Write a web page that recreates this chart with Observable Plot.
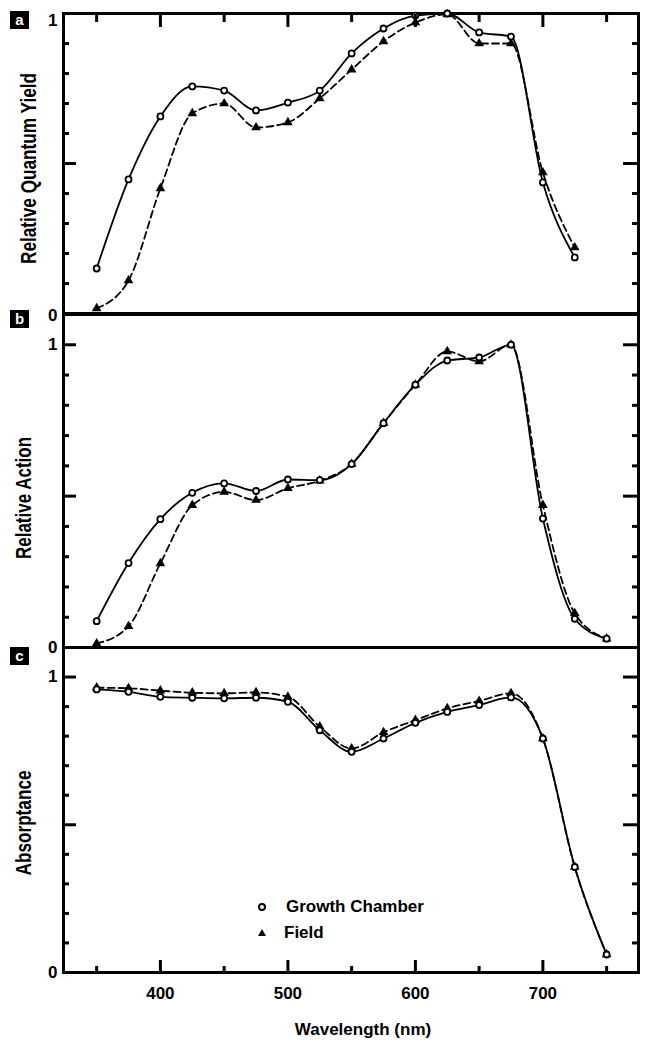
<!DOCTYPE html>
<html>
<head>
<meta charset="utf-8">
<script src="https://cdn.jsdelivr.net/npm/d3@7"></script>
<script src="https://cdn.jsdelivr.net/npm/@observablehq/plot@0.6"></script>
<style>
  body { margin: 0; background: #fff; }
  #chart { position: relative; width: 650px; height: 1046px; font-family: "Liberation Sans", Arial, sans-serif; font-weight: bold; color: #000; }
  .panel { position: absolute; left: 0; }
  .tag { position: absolute; left: 10px; width: 19px; height: 18px; background: #000; color: #fff; font-size: 15px; line-height: 17px; text-align: center; }
  .lg-sym { position: absolute; width: 14px; height: 14px; }
  .lg-txt { position: absolute; font-size: 17px; line-height: 20px; white-space: nowrap; }
</style>
</head>
<body>
<div id="chart"></div>
<script>
// ---------- data ----------
const wavelengthsA = [350, 375, 400, 425, 450, 475, 500, 525, 550, 575, 600, 625, 650, 675, 700, 725];
const wavelengths  = [350, 375, 400, 425, 450, 475, 500, 525, 550, 575, 600, 625, 650, 675, 700, 725, 750];

const quantumYieldGrowth = [0.15, 0.447, 0.657, 0.757, 0.743, 0.677, 0.703, 0.743, 0.867, 0.95, 0.993, 1.0, 0.937, 0.923, 0.437, 0.187];
const quantumYieldField  = [0.017, 0.11, 0.417, 0.667, 0.70, 0.62, 0.637, 0.717, 0.813, 0.907, 0.97, 0.997, 0.9, 0.9, 0.47, 0.22];

const actionGrowth = [0.087, 0.279, 0.424, 0.511, 0.542, 0.517, 0.555, 0.553, 0.606, 0.741, 0.868, 0.948, 0.958, 1.0, 0.426, 0.095, 0.029];
const actionField  = [0.013, 0.07, 0.278, 0.47, 0.514, 0.487, 0.526, 0.551, 0.606, 0.741, 0.868, 0.978, 0.945, 1.0, 0.47, 0.113, 0.029];

const absorptanceGrowth = [0.958, 0.95, 0.933, 0.93, 0.928, 0.93, 0.916, 0.82, 0.747, 0.792, 0.845, 0.882, 0.905, 0.931, 0.792, 0.357, 0.061];
const absorptanceField  = [0.964, 0.962, 0.954, 0.947, 0.945, 0.948, 0.933, 0.832, 0.758, 0.813, 0.854, 0.894, 0.919, 0.945, 0.792, 0.357, 0.061];

const seriesNames = ["Growth Chamber", "Field"];
const panelTags = ["a", "b", "c"];
const yTitles = ["Relative Quantum Yield", "Relative Action", "Absorptance"];
const xTitle = "Wavelength (nm)";

const xDomain = [324, 775];
const xMajorTicks = [400, 500, 600, 700];
const xMinorTicks = [350, 450, 550, 650, 750];
const yMinorTicks = [0.1, 0.2, 0.3, 0.4, 0.6, 0.7, 0.8, 0.9];
const yLabelTicks = [0, 1];

// ---------- helpers ----------
const FONT = '"Liberation Sans", Arial, sans-serif';
const rows = (ws, vals) => ws.map((w, i) => ({w, v: vals[i]}));
const fmt = d => String(d);

function panel({growth, field, yDomain, yMajor, height, marginTop, marginBottom, title, titleDx, titleDy, titleLength, topTicks, bottomTicks, labelMarks}) {
  const marks = [
    Plot.frame({strokeWidth: 3}),
    Plot.axisY(yMinorTicks, {anchor: "left", tickSize: 6, dx: 6, strokeWidth: 3, fill: "none", label: null}),
    Plot.axisY(yMajor, {anchor: "left", tickSize: 13, dx: 13, strokeWidth: 3, fill: "none", label: null}),
    Plot.axisY(yMinorTicks, {anchor: "right", tickSize: 7, dx: -7, strokeWidth: 3, fill: "none", label: null}),
    Plot.axisY(yMajor, {anchor: "right", tickSize: 16, dx: -16, strokeWidth: 3, fill: "none", label: null}),
    ...labelMarks,
    Plot.text([title], {frameAnchor: "left", textAnchor: "middle", lineAnchor: "middle", rotate: -90, dx: titleDx, dy: titleDy, text: d => d, fontSize: 22, fontWeight: "bold", className: "ytitle"}),
    Plot.line(field, {x: "w", y: "v", curve: "monotone-x", stroke: "black", strokeWidth: 1.8, strokeDasharray: "7,4"}),
    Plot.line(growth, {x: "w", y: "v", curve: "monotone-x", stroke: "black", strokeWidth: 1.8}),
    Plot.dot(field, {x: "w", y: "v", symbol: "triangle", r: 3.6, fill: "black"}),
    Plot.dot(growth, {x: "w", y: "v", symbol: "circle", r: 3, fill: "white", stroke: "black", strokeWidth: 1.8})
  ];
  if (topTicks) {
    marks.push(
      Plot.axisX(xMinorTicks, {anchor: "top", tickSize: 8, dy: 8, strokeWidth: 3, fill: "none", label: null}),
      Plot.axisX(xMajorTicks, {anchor: "top", tickSize: 13, dy: 13, strokeWidth: 3, fill: "none", label: null})
    );
  }
  if (bottomTicks) {
    marks.push(
      Plot.axisX(xMinorTicks, {anchor: "bottom", tickSize: 6, dy: -6, strokeWidth: 3, fill: "none", label: null}),
      Plot.axisX(xMajorTicks, {anchor: "bottom", tickSize: 12, dy: -12, strokeWidth: 3, fill: "none", label: null}),
      Plot.axisX(xMajorTicks, {anchor: "bottom", tickSize: 0, tickPadding: 14, label: null, fontSize: 17, tickFormat: fmt}),
      Plot.text([xTitle], {frameAnchor: "bottom", textAnchor: "middle", lineAnchor: "middle", dy: 57, dx: 12, text: d => d, fontSize: 17, fontWeight: "bold"})
    );
  }
  const svg = Plot.plot({
    width: 650,
    height,
    marginLeft: 63,
    marginRight: 12,
    marginTop,
    marginBottom,
    x: {domain: xDomain, ...(topTicks || bottomTicks ? {} : {axis: null})},
    y: {domain: yDomain},
    style: {fontFamily: FONT, fontSize: "17px", fontWeight: "bold", color: "black", background: "transparent", overflow: "visible"},
    marks
  });
  // compress the rotated title along its length, as in the reference typesetting
  svg.querySelectorAll(".ytitle text").forEach(t => {
    t.setAttribute("textLength", titleLength);
    t.setAttribute("lengthAdjust", "spacingAndGlyphs");
  });
  return svg;
}

const chart = document.getElementById("chart");
function place(svg, top) {
  const d = document.createElement("div");
  d.className = "panel";
  d.style.top = top + "px";
  d.appendChild(svg);
  chart.appendChild(d);
}

// panel a
place(panel({
  growth: rows(wavelengthsA, quantumYieldGrowth),
  field: rows(wavelengthsA, quantumYieldField),
  yDomain: [0, 1], yMajor: [0.5],
  height: 315, marginTop: 13, marginBottom: 2,
  title: yTitles[0], titleDx: -35, titleDy: 5, titleLength: 191,
  topTicks: true, bottomTicks: false,
  labelMarks: [
    Plot.axisY([yLabelTicks[1]], {anchor: "left", tickSize: 0, tickPadding: 6, dy: 7, label: null, fontSize: 17, tickFormat: fmt}),
    Plot.axisY([yLabelTicks[0]], {anchor: "left", tickSize: 0, tickPadding: 6, dy: 2, label: null, fontSize: 17, tickFormat: fmt})
  ]
}), 0);

// panel b
place(panel({
  growth: rows(wavelengths, actionGrowth),
  field: rows(wavelengths, actionField),
  yDomain: [0, 1.1], yMajor: [0.5, 1],
  height: 349, marginTop: 14, marginBottom: 2,
  title: yTitles[1], titleDx: -40, titleDy: 17, titleLength: 122,
  topTicks: false, bottomTicks: false,
  labelMarks: [
    Plot.axisY(yLabelTicks, {anchor: "left", tickSize: 0, tickPadding: 6, label: null, fontSize: 17, tickFormat: fmt})
  ]
}), 300);

// panel c
place(panel({
  growth: rows(wavelengths, absorptanceGrowth),
  field: rows(wavelengths, absorptanceField),
  yDomain: [0, 1.1], yMajor: [0.5, 1],
  height: 413, marginTop: 14, marginBottom: 74,
  title: yTitles[2], titleDx: -40, titleDy: 13, titleLength: 105,
  topTicks: false, bottomTicks: true,
  labelMarks: [
    Plot.axisY(yLabelTicks, {anchor: "left", tickSize: 0, tickPadding: 6, label: null, fontSize: 17, tickFormat: fmt})
  ]
}), 633);

// panel tags
[11, 310, 647].forEach((top, i) => {
  const t = document.createElement("div");
  t.className = "tag";
  t.style.top = top + "px";
  t.textContent = panelTags[i];
  chart.appendChild(t);
});

// legend (inside panel c)
const legendItems = [
  {name: seriesNames[0], cy: 907, tx: 286, sym: '<circle cx="7" cy="7" r="3" fill="white" stroke="black" stroke-width="2"/>'},
  {name: seriesNames[1], cy: 933, tx: 284, sym: '<path d="M7,3 L11,10 L3,10 Z" fill="black"/>'}
];
legendItems.forEach(it => {
  const s = document.createElement("div");
  s.className = "lg-sym";
  s.style.left = (262 - 7) + "px";
  s.style.top = (it.cy - 7) + "px";
  s.innerHTML = '<svg width="14" height="14" viewBox="0 0 14 14">' + it.sym + '</svg>';
  chart.appendChild(s);
  const t = document.createElement("div");
  t.className = "lg-txt";
  t.style.left = it.tx + "px";
  t.style.top = (it.cy - 10) + "px";
  t.textContent = it.name;
  chart.appendChild(t);
});
</script>
</body>
</html>
